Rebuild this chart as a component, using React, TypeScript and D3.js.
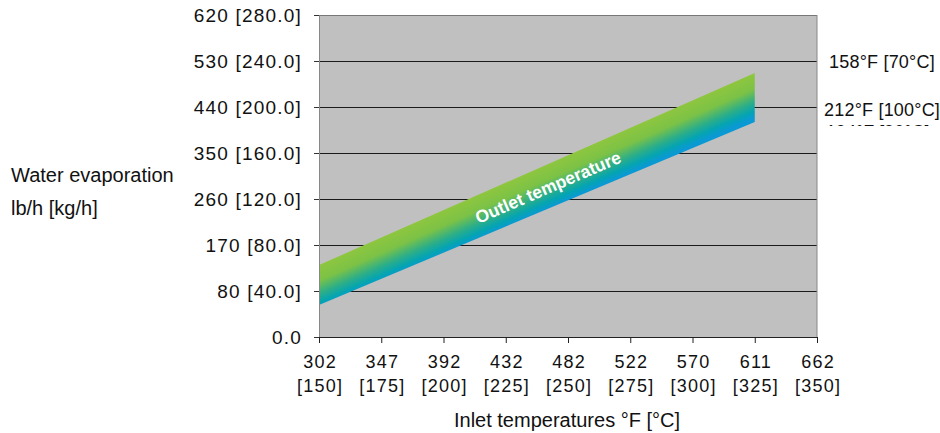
import { useRef, useEffect } from 'react';
import * as d3 from 'd3';

// inlet temperature ticks (°C) and the matching °F labels
const xTicksC = [150, 175, 200, 225, 250, 275, 300, 325, 350];
const xTicksF = ['302', '347', '392', '432', '482', '522', '570', '611', '662'];

// water evaporation ticks (kg/h) and lb/h labels
const yTicksKg = [0, 40, 80, 120, 160, 200, 240, 280];
const yTickLabels = ['0.0', '80 [40.0]', '170 [80.0]', '260 [120.0]', '350 [160.0]', '440 [200.0]', '530 [240.0]', '620 [280.0]'];

// outlet temperature band: inlet °C -> evaporation range (kg/h)
const bandInletC = [150, 325];
const bandUpperKg = [62.6, 229.6];
const bandLowerKg = [27.8, 187];

const outletLabels = ['158°F [70°C]', '212°F [100°C]'];

const FONT = '"Liberation Sans", Arial, Helvetica, sans-serif';

const App = () => {
    const svgRef = useRef<SVGSVGElement | null>(null);

    useEffect(() => {
        const svgElement = svgRef.current;
        if (!svgElement) return;

        const width = 940;
        const height = 433;
        const margin = { top: 15, right: 123, bottom: 96, left: 319 };

        const svg = d3.select(svgElement);
        svg.selectAll('*').remove();

        const x = d3.scaleLinear()
            .domain([150, 350])
            .range([margin.left, width - margin.right]);

        const y = d3.scaleLinear()
            .domain([0, 280])
            .range([height - margin.bottom, margin.top]);

        // plot background
        svg.append('rect')
            .attr('x', x(150))
            .attr('y', y(280))
            .attr('width', x(350) - x(150))
            .attr('height', y(0) - y(280))
            .attr('fill', '#c0c0c0');

        // horizontal grid
        const yGrid = svg.append('g')
            .attr('transform', `translate(${margin.left}, 0)`)
            .call(d3.axisLeft(y)
                .tickValues(yTicksKg.filter(d => d > 0))
                .tickSize(-(x(350) - x(150)))
                .tickSizeOuter(0)
                .tickFormat(() => '')
            );
        yGrid.select('.domain').remove();
        yGrid.selectAll('.tick line')
            .attr('stroke', (d: any) => d === 280 ? '#777' : '#1a1a1a')
            .attr('stroke-width', 1);

        // right border
        svg.append('line')
            .attr('x1', x(350)).attr('x2', x(350))
            .attr('y1', y(280)).attr('y2', y(0))
            .attr('stroke', '#888')
            .attr('stroke-width', 1);

        // band gradient, perpendicular to the band
        const topA: [number, number] = [x(bandInletC[0]), y(bandUpperKg[0])];
        const topB: [number, number] = [x(bandInletC[1]), y(bandUpperKg[1])];
        const botA: [number, number] = [x(bandInletC[0]), y(bandLowerKg[0])];
        const botB: [number, number] = [x(bandInletC[1]), y(bandLowerKg[1])];
        const dx = topB[0] - topA[0];
        const dy = topB[1] - topA[1];
        const len = Math.hypot(dx, dy);
        const nx = -dy / len;
        const ny = dx / len;
        const midTop: [number, number] = [(topA[0] + topB[0]) / 2, (topA[1] + topB[1]) / 2];
        const midBot: [number, number] = [(botA[0] + botB[0]) / 2, (botA[1] + botB[1]) / 2];
        const depth = (midBot[1] - midTop[1]) * ny;

        const defs = svg.append('defs');
        const grad = defs.append('linearGradient')
            .attr('id', 'bandGrad')
            .attr('gradientUnits', 'userSpaceOnUse')
            .attr('x1', midTop[0])
            .attr('y1', midTop[1])
            .attr('x2', midTop[0] + nx * depth)
            .attr('y2', midTop[1] + ny * depth);
        grad.append('stop').attr('offset', '0%').attr('stop-color', '#8ec63f');
        grad.append('stop').attr('offset', '35%').attr('stop-color', '#7cc246');
        grad.append('stop').attr('offset', '65%').attr('stop-color', '#2bae89');
        grad.append('stop').attr('offset', '85%').attr('stop-color', '#04a4b2');
        grad.append('stop').attr('offset', '100%').attr('stop-color', '#0a99d3');

        const bandData = bandInletC.map((c, i) => ({ c, lo: bandLowerKg[i], hi: bandUpperKg[i] }));
        const area = d3.area<{ c: number, lo: number, hi: number }>()
            .x(d => x(d.c))
            .y0(d => y(d.lo))
            .y1(d => y(d.hi));

        svg.append('path')
            .datum(bandData)
            .attr('fill', 'url(#bandGrad)')
            .attr('d', area as unknown as string);

        // band label
        const t = (242 - bandInletC[0]) / (bandInletC[1] - bandInletC[0]);
        const labelX = x(242);
        const labelY = (y(bandUpperKg[0] + t * (bandUpperKg[1] - bandUpperKg[0])) +
            y(bandLowerKg[0] + t * (bandLowerKg[1] - bandLowerKg[0]))) / 2 + 1;
        const angle = Math.atan2((midTop[1] + midBot[1]) / 2 - (topA[1] + botA[1]) / 2, midTop[0] - topA[0]) * 180 / Math.PI;

        svg.append('text')
            .attr('transform', `translate(${labelX}, ${labelY}) rotate(${angle})`)
            .attr('text-anchor', 'middle')
            .attr('dominant-baseline', 'central')
            .style('font-family', FONT)
            .style('font-size', '17.5px')
            .style('font-weight', 'bold')
            .style('fill', '#fff')
            .text('Outlet temperature');

        // left axis
        const yAxis = svg.append('g')
            .attr('transform', `translate(${margin.left}, 0)`)
            .call(d3.axisLeft(y)
                .tickValues(yTicksKg)
                .tickSize(5)
                .tickSizeOuter(0)
                .tickPadding(12)
                .tickFormat((_, i) => yTickLabels[i])
            );
        yAxis.select('.domain').attr('stroke', '#888');
        yAxis.selectAll('.tick line').attr('stroke', '#333');
        yAxis.selectAll('text')
            .attr('dy', '0.36em')
            .style('font-family', FONT)
            .style('font-size', '19px')
            .style('letter-spacing', '1.2px')
            .attr('fill', '#111');

        // bottom axis
        const xAxis = svg.append('g')
            .attr('transform', `translate(0, ${y(0)})`)
            .call(d3.axisBottom(x)
                .tickValues(xTicksC)
                .tickSize(6)
                .tickSizeOuter(0)
                .tickFormat(() => '')
            );
        xAxis.select('.domain').attr('stroke', '#222');
        xAxis.selectAll('.tick line').attr('stroke', '#222');

        xAxis.selectAll('.tick')
            .append('text')
            .attr('y', 31)
            .attr('x', 0.6)
            .attr('text-anchor', 'middle')
            .attr('fill', '#111')
            .style('font-family', FONT)
            .style('font-size', '18px')
            .style('letter-spacing', '1.2px')
            .text((_, i) => xTicksF[i]);

        xAxis.selectAll('.tick')
            .append('text')
            .attr('y', 55)
            .attr('x', 0.6)
            .attr('text-anchor', 'middle')
            .attr('fill', '#111')
            .style('font-family', FONT)
            .style('font-size', '18px')
            .style('letter-spacing', '1.2px')
            .text((d: any) => `[${d}]`);

        // axis titles
        svg.append('text')
            .attr('x', 567)
            .attr('y', 427)
            .attr('text-anchor', 'middle')
            .style('font-family', FONT)
            .style('font-size', '20px')
            .style('fill', '#111')
            .text('Inlet temperatures °F [°C]');

        svg.append('text')
            .attr('x', 11)
            .attr('y', 182)
            .style('font-family', FONT)
            .style('font-size', '20px')
            .style('fill', '#111')
            .text('Water evaporation');

        svg.append('text')
            .attr('x', 11)
            .attr('y', 215)
            .style('font-family', FONT)
            .style('font-size', '20px')
            .style('fill', '#111')
            .text('lb/h [kg/h]');

        // outlet temperature labels on the right
        const rightPos = [{ x: 829, y: 68 }, { x: 824, y: 116 }];
        outletLabels.forEach((label, i) => {
            svg.append('text')
                .attr('x', rightPos[i].x)
                .attr('y', rightPos[i].y)
                .style('font-family', FONT)
                .style('font-size', '18px')
                .style('letter-spacing', '0.2px')
                .style('fill', '#111')
                .text(label);
        });

        // third label, almost fully hidden
        defs.append('clipPath')
            .attr('id', 'hiddenLabel')
            .append('rect')
            .attr('x', 820).attr('y', 124.5).attr('width', 120).attr('height', 1.5);
        svg.append('text')
            .attr('x', 826)
            .attr('y', 137.5)
            .attr('clip-path', 'url(#hiddenLabel)')
            .style('font-family', FONT)
            .style('font-size', '18px')
            .style('fill', '#111')
            .text('194°F [90°C]');
    }, []);

    return (
        <svg ref={svgRef} width={940} height={433}
            style={{ position: 'absolute', left: 0, top: 0, background: '#fff' }} />
    );
};

export default App;
